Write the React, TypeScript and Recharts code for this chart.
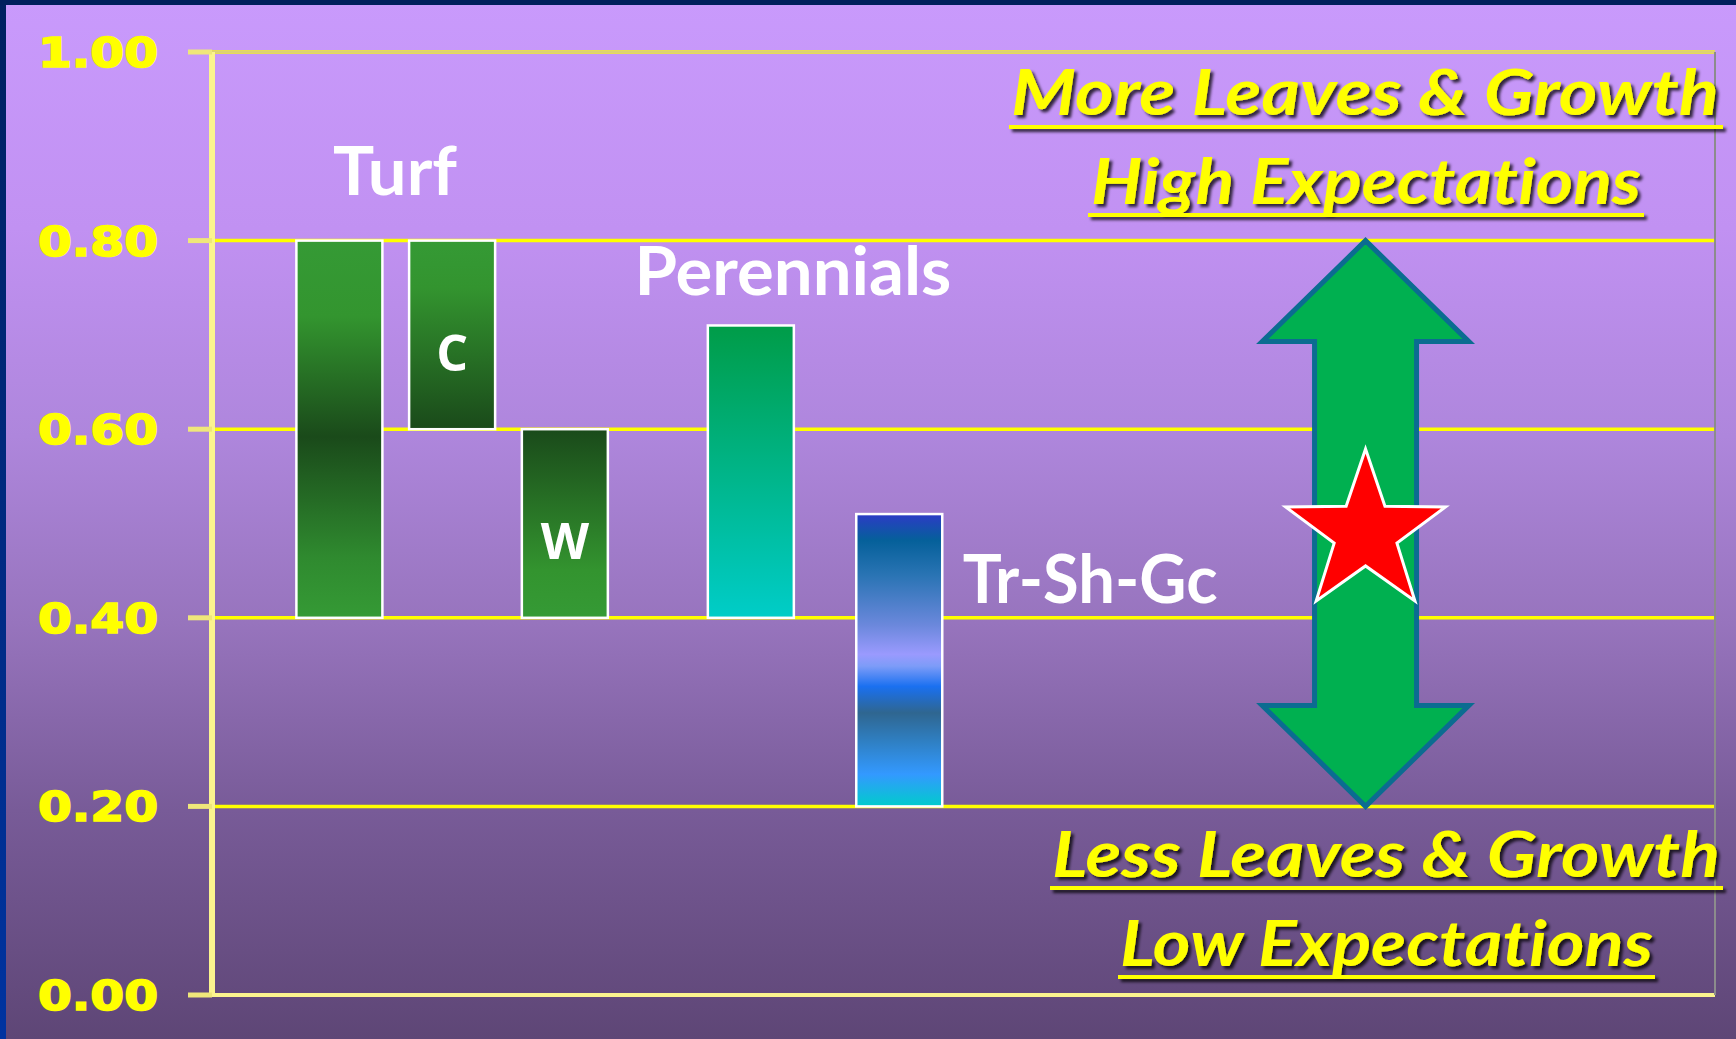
import {
  ComposedChart,
  Bar,
  Scatter,
  XAxis,
  YAxis,
  CartesianGrid,
  ReferenceLine,
  ReferenceArea,
  ReferenceDot,
} from 'recharts';

// plant groups, each drawn as a floating bar from low to high
const groups = ['Turf', 'C', 'W', 'Perennials', 'Tr-Sh-Gc'];
const lows = [0.4, 0.6, 0.4, 0.4, 0.2];
const highs = [0.8, 0.8, 0.6, 0.71, 0.51];
const slots = [3.4, 6.4, 9.4, 14.35, 18.3];
const innerTags = ['', 'C', 'W', '', ''];

const yTicks = [0, 0.2, 0.4, 0.6, 0.8, 1.0];

// headings above the bar groups
const headings = ['Turf', 'Perennials', 'Tr-Sh-Gc'];
const headingX = [4.87, 15.46, 23.37];
const headingY = [0.848, 0.742, 0.416];
const headingWidths = [124, 317, 255];

// expectation range arrow and the star inside it
const arrowX = 30.7;
const arrowSpan = [0.2, 0.8];
const starX = 30.7;
const starY = 0.49;

const barData = groups.map((name, i) => ({
  name,
  x: slots[i],
  range: [lows[i], highs[i]],
  tag: innerTags[i],
}));

const starData = [{ x: starX, y: starY }];

const gradients: { id: string; stops: [number, string][] }[] = [
  {
    id: 'bar-0',
    stops: [
      [0, '#359a35'],
      [0.2, '#33952f'],
      [0.52, '#1a4a1a'],
      [0.84, '#2f8a2f'],
      [1, '#359a35'],
    ],
  },
  {
    id: 'bar-1',
    stops: [
      [0, '#359a35'],
      [0.25, '#33942f'],
      [1, '#1a4a1a'],
    ],
  },
  {
    id: 'bar-2',
    stops: [
      [0, '#1a4a1a'],
      [0.75, '#33942f'],
      [1, '#359a35'],
    ],
  },
  {
    id: 'bar-3',
    stops: [
      [0, '#009c48'],
      [1, '#00cdc8'],
    ],
  },
  {
    id: 'bar-4',
    stops: [
      [0, '#2c3bc6'],
      [0.09, '#05609a'],
      [0.21, '#2a74b4'],
      [0.38, '#6b88dc'],
      [0.48, '#9a9afe'],
      [0.52, '#7d9cf8'],
      [0.59, '#1a70f0'],
      [0.68, '#2f6690'],
      [0.78, '#2f80c4'],
      [0.89, '#3399ff'],
      [1, '#00cccc'],
    ],
  },
];

const YTick = (props: any) => {
  const { x, y, payload } = props;
  return (
    <text
      x={x}
      y={y + 15}
      textAnchor="end"
      fill="#ffff00"
      stroke="#ffff00"
      strokeWidth={1.6}
      fontFamily="DejaVu Sans"
      fontWeight="bold"
      fontSize={40}
      textLength={120}
      lengthAdjust="spacingAndGlyphs"
    >
      {Number(payload.value).toFixed(2)}
    </text>
  );
};

const RangeBar = (props: any) => {
  const { x, y, width, height, index, payload } = props;
  const top = height < 0 ? y + height : y;
  const h = Math.abs(height);
  return (
    <g>
      <rect
        x={x}
        y={top}
        width={width}
        height={h}
        fill={`url(#bar-${index})`}
        stroke="#ffffff"
        strokeWidth={2.5}
      />
      {payload.tag ? (
        <text
          x={x + width / 2}
          y={top + h * 0.69}
          textAnchor="middle"
          fill="#ffffff"
          fontFamily="Open Sans"
          fontWeight="bold"
          fontSize={50}
        >
          {payload.tag}
        </text>
      ) : null}
    </g>
  );
};

const DoubleArrow = (props: any) => {
  const { x, y, width, height } = props;
  const cx = x + width / 2;
  const hw = width / 2;
  const sw = 51;
  const hh = 101;
  const top = y;
  const bot = y + height;
  const pts = [
    [cx, top],
    [cx + hw, top + hh],
    [cx + sw, top + hh],
    [cx + sw, bot - hh],
    [cx + hw, bot - hh],
    [cx, bot],
    [cx - hw, bot - hh],
    [cx - sw, bot - hh],
    [cx - sw, top + hh],
    [cx - hw, top + hh],
  ]
    .map((p) => p.join(','))
    .join(' ');
  return <polygon points={pts} fill="#00b050" stroke="#0b6c91" strokeWidth={5} strokeLinejoin="miter" />;
};

const Star = (props: any) => {
  const { cx, cy } = props;
  const outer = 84;
  const inner = 33;
  const pts: string[] = [];
  for (let k = 0; k < 10; k++) {
    const r = k % 2 === 0 ? outer : inner;
    const a = -Math.PI / 2 + (k * Math.PI) / 5;
    pts.push(`${cx + r * Math.cos(a)},${cy + r * Math.sin(a)}`);
  }
  return <polygon points={pts.join(' ')} fill="#ff0000" stroke="#ffffff" strokeWidth={3} />;
};

const heading = (text: string, len: number) => (p: any) => (
  <text
    x={p.cx}
    y={p.cy}
    textAnchor="middle"
    fill="#ffffff"
    fontFamily="Lato"
    fontWeight="bold"
    fontSize={67}
    textLength={len}
    lengthAdjust="spacingAndGlyphs"
  >
    {text}
  </text>
);

// underlined italic captions in the right-hand corners
const captions = [
  { text: 'More Leaves & Growth', x: 1011, base: 115, len: 708, ux: 1009, uw: 714, uy: 125 },
  { text: 'High Expectations', x: 1091, base: 204, len: 550, ux: 1088, uw: 556, uy: 213 },
  { text: 'Less Leaves & Growth', x: 1052, base: 877, len: 668, ux: 1050, uw: 673, uy: 886 },
  { text: 'Low Expectations', x: 1120, base: 966, len: 533, ux: 1118, uw: 537, uy: 975 },
];

export default function App() {
  return (
    <div
      style={{
        position: 'fixed',
        left: 0,
        top: 0,
        width: 1736,
        height: 1039,
        overflow: 'hidden',
        background:
          'linear-gradient(to bottom, #c99afc 0%, #c191f2 22%, #ae86dc 42%, #9774bd 60%, #785b98 78%, #5e4676 100%)',
      }}
    >
      <div
        style={{
          position: 'absolute',
          left: 0,
          top: 0,
          width: 6,
          height: '100%',
          background: 'linear-gradient(to bottom, #00205f, #0033a0)',
        }}
      />
      <div style={{ position: 'absolute', left: 0, top: 0, width: '100%', height: 5, background: '#001f5c' }} />

      <svg width={0} height={0} style={{ position: 'absolute' }}>
        <defs>
          {gradients.map((g) => (
            <linearGradient key={g.id} id={g.id} x1="0" y1="0" x2="0" y2="1">
              {g.stops.map(([o, c], i) => (
                <stop key={i} offset={o} stopColor={c} />
              ))}
            </linearGradient>
          ))}
          <filter id="cap-shadow" x="-5%" y="-30%" width="110%" height="160%">
            <feDropShadow dx={3} dy={3} stdDeviation={1.5} floodColor="#000000" floodOpacity={0.75} />
          </filter>
        </defs>
      </svg>

      <div style={{ position: 'absolute', left: 0, top: 0 }}>
        <ComposedChart width={1736} height={1039} data={barData} margin={{ top: 52, right: 21, bottom: 44, left: 0 }}>
          <CartesianGrid vertical={false} stroke="#ffff00" strokeWidth={3.5} />
          <XAxis type="number" dataKey="x" domain={[0, 40]} hide allowDataOverflow />
          <YAxis
            type="number"
            domain={[0, 1]}
            ticks={yTicks}
            width={212}
            axisLine={{ stroke: '#fbf48e', strokeWidth: 6 }}
            tickLine={{ stroke: '#efe77a', strokeWidth: 5 }}
            tickSize={24}
            tickMargin={30}
            tick={<YTick />}
            interval={0}
          />
          <ReferenceLine x={0} stroke="#ebe374" strokeWidth={6} strokeDasharray="3 9" />
          <ReferenceLine y={0} stroke="#fbf48e" strokeWidth={4} />
          <ReferenceLine y={1} stroke="#ddd274" strokeWidth={3} />
          <ReferenceLine x={40} stroke="#8c8c8c" strokeWidth={2} />
          <Bar dataKey="range" barSize={86} shape={<RangeBar />} isAnimationActive={false} />
          <ReferenceArea
            x1={arrowX - 2.75}
            x2={arrowX + 2.75}
            y1={arrowSpan[0]}
            y2={arrowSpan[1]}
            shape={(p: any) => <DoubleArrow {...p} />}
            fillOpacity={1}
          />
          <Scatter data={starData} dataKey="y" shape={(p: any) => <Star {...p} />} isAnimationActive={false} />
          {headings.map((t, i) => (
            <ReferenceDot key={t} x={headingX[i]} y={headingY[i]} r={0} shape={heading(t, headingWidths[i])} />
          ))}
        </ComposedChart>
      </div>

      <svg width={1736} height={1039} style={{ position: 'absolute', left: 0, top: 0, pointerEvents: 'none' }}>
        {captions.map((c) => (
          <g key={c.text} filter="url(#cap-shadow)">
            <text
              x={c.x}
              y={c.base}
              fill="#ffff00"
              fontFamily="Lato"
              fontWeight="bold"
              fontStyle="italic"
              fontSize={64}
              textLength={c.len}
              lengthAdjust="spacingAndGlyphs"
              style={{ fontVariantLigatures: 'none' }}
            >
              {c.text}
            </text>
            <rect x={c.ux} y={c.uy} width={c.uw} height={4} fill="#ffff00" />
          </g>
        ))}
      </svg>
    </div>
  );
}
